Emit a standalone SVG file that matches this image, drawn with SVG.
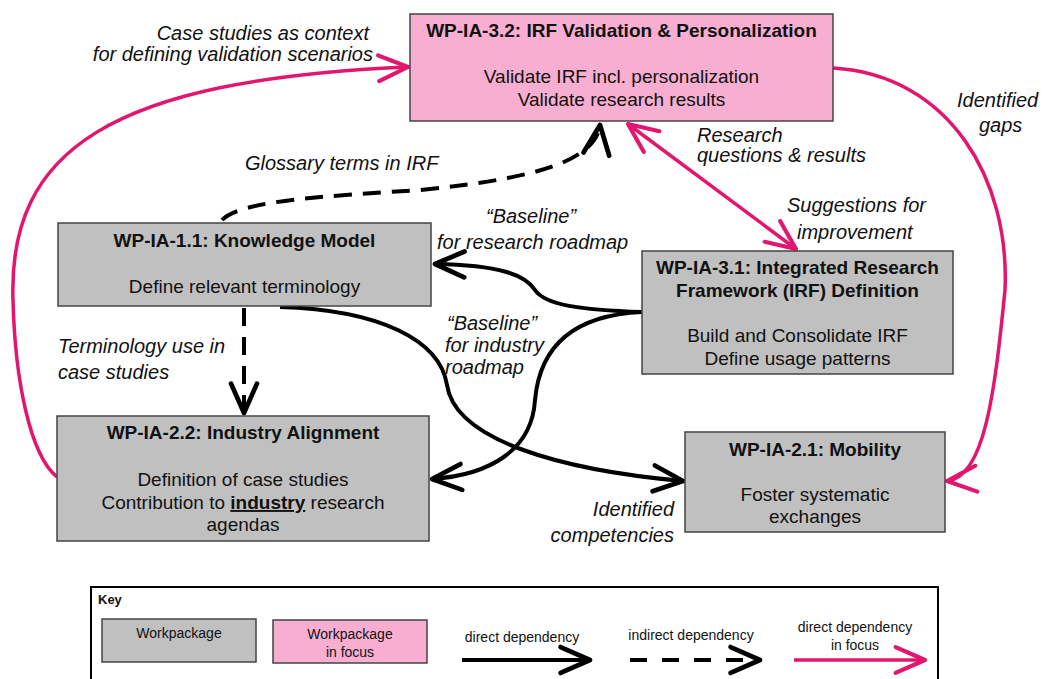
<svg xmlns="http://www.w3.org/2000/svg" width="1043" height="679" viewBox="0 0 1043 679">
<style>
text{font-family:"Liberation Sans",Arial,sans-serif;fill:#111}
.t{font-size:19px;font-weight:bold;text-anchor:middle}
.b{font-size:19px;text-anchor:middle}
.l{font-size:20px;font-style:italic}
.k{font-size:14px;text-anchor:middle}
.wp{fill:#c0c0c0;stroke:#444;stroke-width:1.5}
.fo{fill:#f7aed0;stroke:#444;stroke-width:1.5}
.blk{fill:none;stroke:#000;stroke-width:4}
.dsh{fill:none;stroke:#000;stroke-width:4;stroke-dasharray:18 11}
.pk{fill:none;stroke:#e3166e;stroke-width:3.5}
</style>
<defs>
<marker id="ab" markerUnits="userSpaceOnUse" markerWidth="40" markerHeight="40" viewBox="-30 -15 34 30" refX="0" refY="0" orient="auto">
<path d="M-25,-11 L0,0 L-25,11" fill="none" stroke="#000" stroke-width="4" stroke-linecap="round" stroke-linejoin="round"/>
</marker>
<marker id="ap" markerUnits="userSpaceOnUse" markerWidth="40" markerHeight="40" viewBox="-30 -15 34 30" refX="0" refY="0" orient="auto-start-reverse">
<path d="M-25,-11 L0,0 L-25,11" fill="none" stroke="#e3166e" stroke-width="3.5" stroke-linecap="round" stroke-linejoin="round"/>
</marker>
</defs>

<g id="connectors">
<path class="pk" d="M57,477 C30,455 15,380 13,300 C8,150 110,80 408,67" marker-end="url(#ap)"/>
<path class="pk" d="M833,68 C950,75 1010,180 1005,290 C995,390 985,478 947,481" marker-end="url(#ap)"/>
<path class="pk" d="M628,124 L796,249" marker-start="url(#ap)" marker-end="url(#ap)"/>
<path class="dsh" d="M222,220 C240,200 330,196 420,190 C520,180 595,165 600,125" marker-end="url(#ab)"/>
<path class="dsh" d="M244,308 L244,413" marker-end="url(#ab)"/>
<path class="blk" d="M642,312 C580,310 545,305 535,290 C525,275 500,265 435,264" marker-end="url(#ab)"/>
<path class="blk" d="M642,312 C575,315 540,345 535,400 C532,450 490,475 432,479" marker-end="url(#ab)"/>
<path class="blk" d="M280,307 C380,310 440,340 447,385 C455,440 560,470 683,481" marker-end="url(#ab)"/>
</g>

<g id="lbl-case"><text class="l" x="369" y="40" text-anchor="end">Case studies as context</text><text class="l" x="373" y="61" text-anchor="end">for defining validation scenarios</text></g>
<g id="lbl-gloss"><text class="l" x="245" y="170">Glossary terms in IRF</text></g>
<g id="lbl-research"><text class="l" x="697" y="142">Research</text><text class="l" x="697" y="162">questions &amp; results</text></g>
<g id="lbl-gaps"><text class="l" x="957" y="107">Identified</text><text class="l" x="979" y="132">gaps</text></g>
<g id="lbl-sugg"><text class="l" x="787" y="212">Suggestions for</text><text class="l" x="797" y="239">improvement</text></g>
<g id="lbl-base1"><text class="l" x="486" y="223">“Baseline”</text><text class="l" x="437" y="249">for research roadmap</text></g>
<g id="lbl-base2"><text class="l" x="447" y="330">“Baseline”</text><text class="l" x="445" y="352">for industry</text><text class="l" x="445" y="374">roadmap</text></g>
<g id="lbl-term"><text class="l" x="58" y="353">Terminology use in</text><text class="l" x="58" y="379">case studies</text></g>
<g id="lbl-comp"><text class="l" x="674" y="516" text-anchor="end">Identified</text><text class="l" x="674" y="542" text-anchor="end">competencies</text></g>

<g id="wp32">
<rect class="fo" x="410" y="14" width="423" height="107"/>
<text class="t" x="621.5" y="37">WP-IA-3.2: IRF Validation &amp; Personalization</text>
<text class="b" x="621.5" y="83">Validate IRF incl. personalization</text>
<text class="b" x="621.5" y="106">Validate research results</text>
</g>
<g id="wp11">
<rect class="wp" x="58" y="223" width="373" height="83"/>
<text class="t" x="244.5" y="247">WP-IA-1.1: Knowledge Model</text>
<text class="b" x="244.5" y="293">Define relevant terminology</text>
</g>
<g id="wp31">
<rect class="wp" x="642" y="251" width="311" height="123"/>
<text class="t" x="797.5" y="274">WP-IA-3.1: Integrated Research</text>
<text class="t" x="797.5" y="297">Framework (IRF) Definition</text>
<text class="b" x="797.5" y="342">Build and Consolidate IRF</text>
<text class="b" x="797.5" y="365">Define usage patterns</text>
</g>
<g id="wp22">
<rect class="wp" x="57" y="416" width="372" height="125"/>
<text class="t" x="243" y="439">WP-IA-2.2: Industry Alignment</text>
<text class="b" x="243" y="486">Definition of case studies</text>
<text class="b" x="243" y="509">Contribution to <tspan font-weight="bold" text-decoration="underline">industry</tspan> research</text>
<text class="b" x="243" y="531">agendas</text>
</g>
<g id="wp21">
<rect class="wp" x="685" y="432" width="260" height="100"/>
<text class="t" x="815" y="456">WP-IA-2.1: Mobility</text>
<text class="b" x="815" y="501">Foster systematic</text>
<text class="b" x="815" y="523">exchanges</text>
</g>

<g id="key">
<rect x="91" y="587" width="847" height="100" fill="#fff" stroke="#000" stroke-width="2"/>
<text x="98" y="604" font-size="13" font-weight="bold">Key</text>
<rect class="wp" x="102" y="619" width="154" height="43"/>
<text class="k" x="179" y="638">Workpackage</text>
<rect class="fo" x="273" y="620" width="154" height="43"/>
<text class="k" x="350" y="639">Workpackage</text>
<text class="k" x="350" y="657">in focus</text>
<text class="k" x="522" y="642">direct dependency</text>
<path class="blk" d="M462,660 L590,660" marker-end="url(#ab)"/>
<text class="k" x="691" y="640">indirect dependency</text>
<path d="M630,660 L760,660" fill="none" stroke="#000" stroke-width="4" stroke-dasharray="17 15" marker-end="url(#ab)"/>
<text class="k" x="855" y="632">direct dependency</text>
<text class="k" x="855" y="650">in focus</text>
<path class="pk" d="M794,660 L925,660" marker-end="url(#ap)"/>
</g>
</svg>
